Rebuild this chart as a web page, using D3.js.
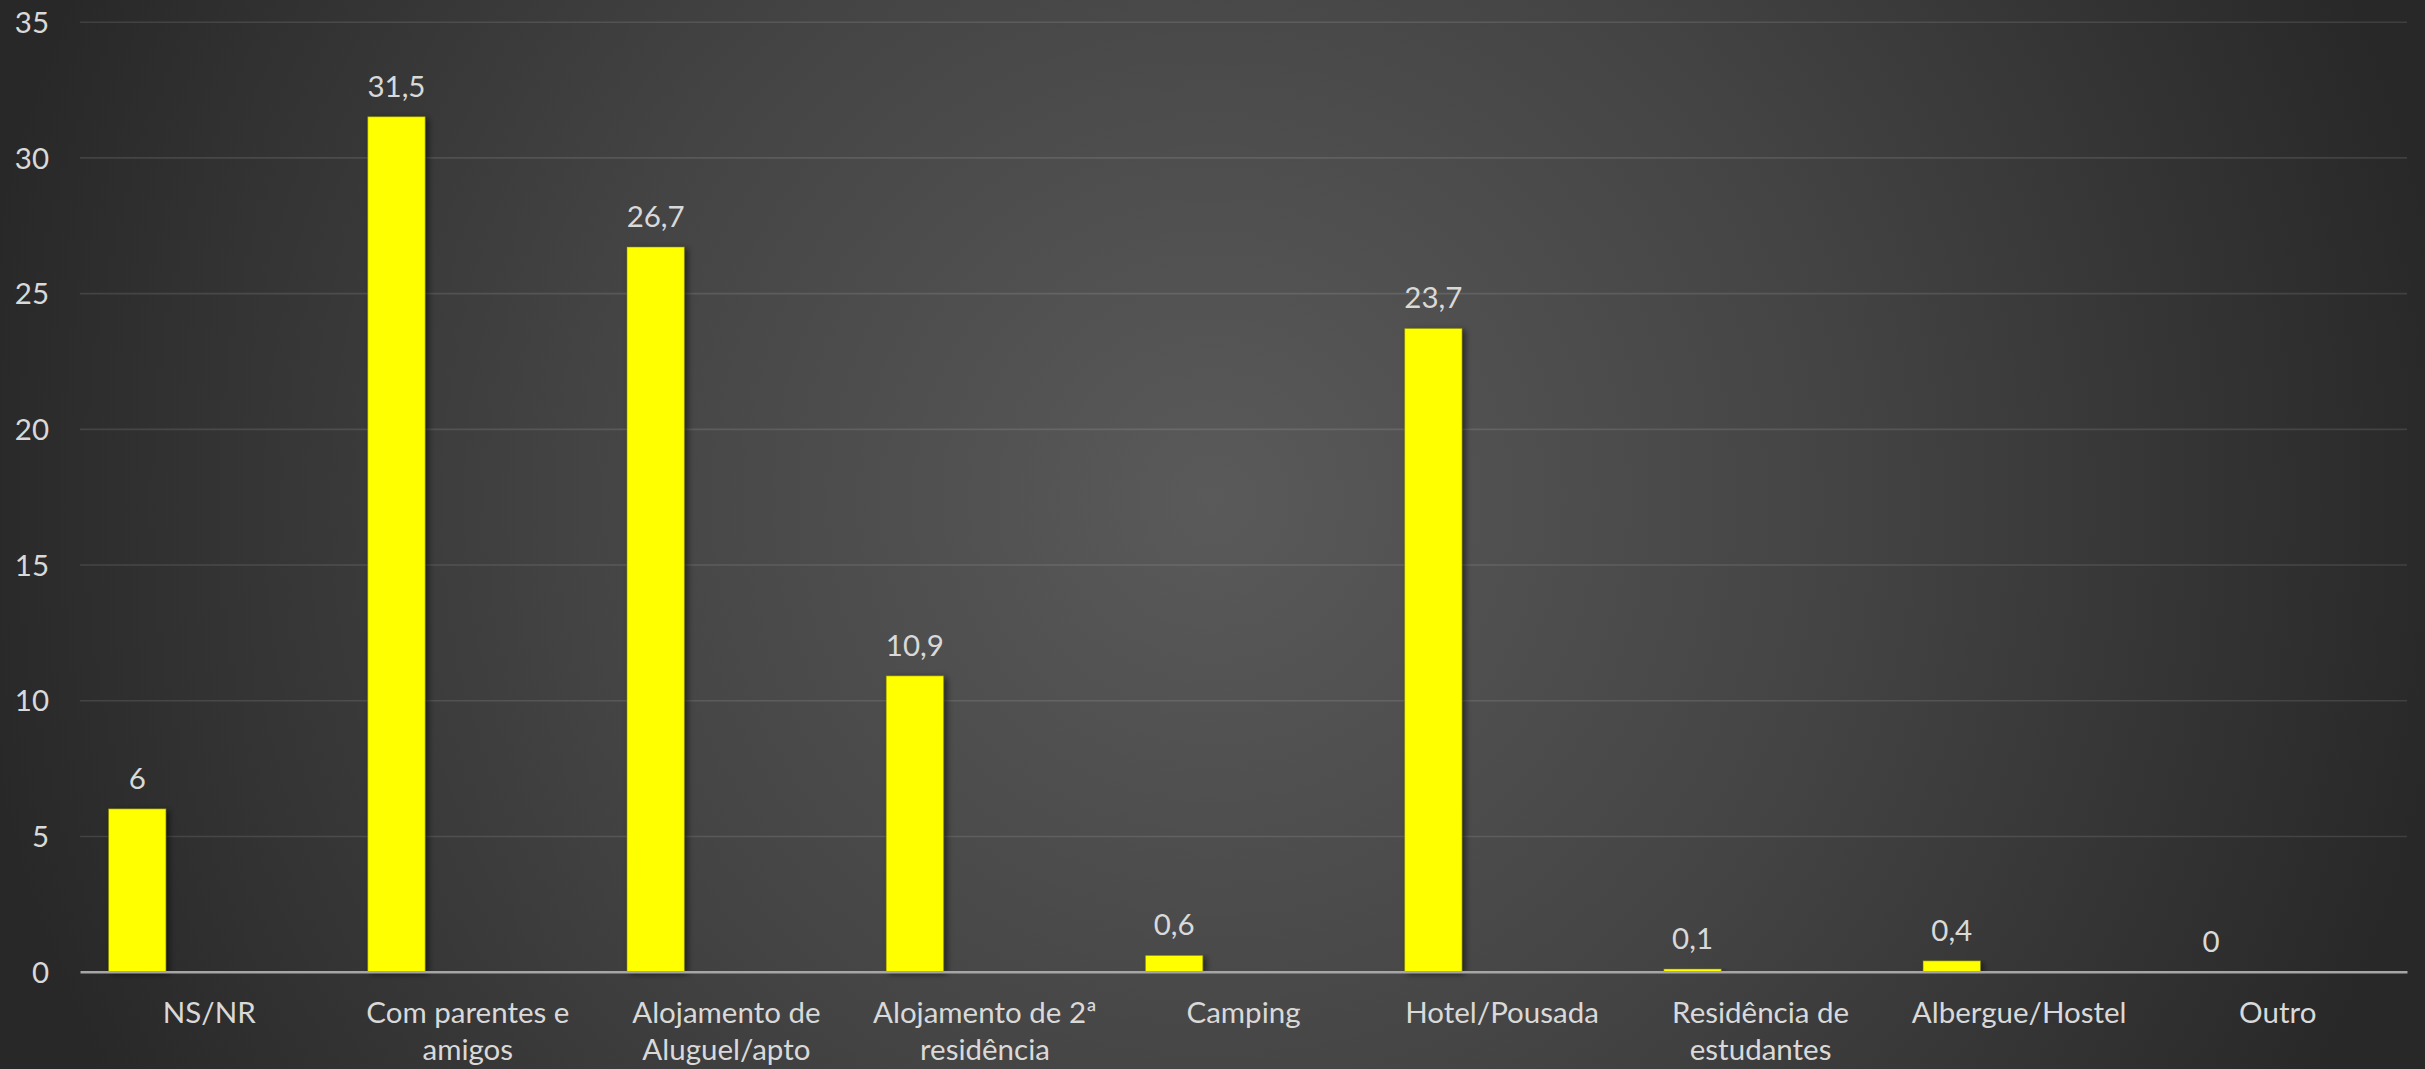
<!DOCTYPE html>
<html>
<head>
<meta charset="utf-8">
<script src="https://cdn.jsdelivr.net/npm/d3@7"></script>
<style>
  html, body { margin: 0; padding: 0; background: #2a2a2a; overflow: hidden; }
  svg { display: block; }
</style>
</head>
<body>
<svg id="chart" width="2425" height="1069"></svg>
<script>
// ---- data ----
const categories = [
  "NS/NR",
  "Com parentes e amigos",
  "Alojamento de Aluguel/apto",
  "Alojamento de 2ª residência",
  "Camping",
  "Hotel/Pousada",
  "Residência de estudantes",
  "Albergue/Hostel",
  "Outro"
];
const labelLines = [
  ["NS/NR"],
  ["Com parentes e", "amigos"],
  ["Alojamento de", "Aluguel/apto"],
  ["Alojamento de 2ª", "residência"],
  ["Camping"],
  ["Hotel/Pousada"],
  ["Residência de", "estudantes"],
  ["Albergue/Hostel"],
  ["Outro"]
];
const values = [6, 31.5, 26.7, 10.9, 0.6, 23.7, 0.1, 0.4, 0];
const yTicks = [0, 5, 10, 15, 20, 25, 30, 35];

// ---- layout ----
const W = 2425, H = 1069;
const plot = { left: 80, right: 2407, top: 21.7, bottom: 971.7 };
const FONT = "Lato, 'Open Sans', sans-serif";
const FS = 29.5;
const TEXT = "#d9d9d9";

const svg = d3.select("#chart");
const defs = svg.append("defs");

const grad = defs.append("radialGradient")
  .attr("id", "bg").attr("gradientUnits", "userSpaceOnUse")
  .attr("cx", 1212).attr("cy", 500).attr("r", 1250);
grad.append("stop").attr("offset", 0).attr("stop-color", "#5a5a5a");
grad.append("stop").attr("offset", 0.5).attr("stop-color", "#444444");
grad.append("stop").attr("offset", 1).attr("stop-color", "#282828");

const sh = defs.append("filter").attr("id", "shadow")
  .attr("x", "-20%").attr("y", "-5%").attr("width", "160%").attr("height", "110%");
sh.append("feDropShadow").attr("dx", 3).attr("dy", 2)
  .attr("stdDeviation", 3).attr("flood-color", "#000").attr("flood-opacity", 0.55);

svg.append("rect").attr("width", W).attr("height", H).attr("fill", "url(#bg)");

// ---- scales ----
const x = d3.scaleBand().domain(categories).range([plot.left, plot.right]).padding(0);
const xBar = d3.scaleBand().domain(categories).range([plot.left, plot.right + 6]).padding(0);
const y = d3.scaleLinear().domain([0, 35]).range([plot.bottom, plot.top]);
const barOffset = xBar.bandwidth() * 0.11;
const barWidth = xBar.bandwidth() * 0.2215;

// ---- y axis with gridlines ----
const yAxis = d3.axisLeft(y).tickValues(yTicks)
  .tickSize(-(plot.right - plot.left)).tickPadding(31)
  .tickFormat(d => String(d));
const gy = svg.append("g").attr("transform", `translate(${plot.left},0)`).call(yAxis);
gy.select(".domain").remove();
gy.selectAll(".tick line")
  .attr("stroke", "rgba(255,255,255,0.11)").attr("stroke-width", 1.6)
  .filter(d => d === 0).remove();
gy.selectAll(".tick text")
  .attr("fill", TEXT).attr("font-family", FONT).attr("font-size", FS)
  .attr("dy", "0.36em");

// ---- bars ----
svg.append("g").selectAll("rect").data(values).join("rect")
  .attr("x", (d, i) => xBar(categories[i]) + barOffset)
  .attr("y", d => y(d))
  .attr("width", barWidth)
  .attr("height", d => y(0) - y(d))
  .attr("fill", "#ffff00")
  .attr("stroke", "rgba(120,120,0,0.5)").attr("stroke-width", 1)
  .attr("filter", "url(#shadow)");

// ---- baseline ----
const xAxis = d3.axisBottom(x).tickSize(0).tickFormat("");
const gx = svg.append("g").attr("transform", `translate(0,${y(0)})`).call(xAxis);
gx.select(".domain").attr("stroke", "#a6a6a6").attr("stroke-width", 2.4);

// ---- category labels ----
const catG = svg.append("g").attr("font-family", FONT).attr("font-size", FS)
  .attr("fill", TEXT).attr("text-anchor", "middle");
catG.selectAll("text").data(categories).join("text")
  .attr("x", d => x(d) + x.bandwidth() / 2)
  .attr("y", 1023)
  .each(function(d, i) {
    const t = d3.select(this);
    labelLines[i].forEach((ln, k) => {
      t.append("tspan").attr("x", x(d) + x.bandwidth() / 2)
        .attr("dy", k === 0 ? 0 : 37).text(ln);
    });
  });

// ---- value labels ----
svg.append("g").attr("font-family", FONT).attr("font-size", FS)
  .attr("fill", TEXT).attr("text-anchor", "middle")
  .selectAll("text").data(values).join("text")
  .attr("x", (d, i) => xBar(categories[i]) + barOffset + barWidth / 2)
  .attr("y", d => y(d) - 20)
  .text(d => String(d).replace(".", ","));
</script>
</body>
</html>
